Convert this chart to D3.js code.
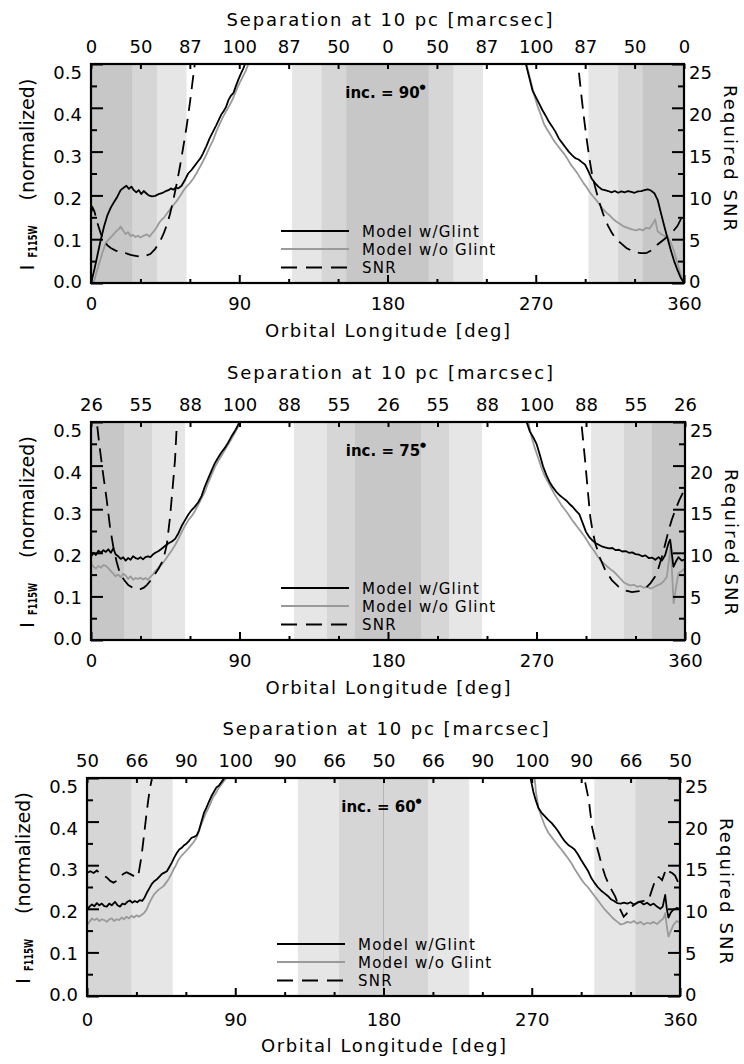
<!DOCTYPE html>
<html>
<head>
<meta charset="utf-8">
<script src="https://cdn.jsdelivr.net/npm/d3@7"></script>
<style>
  body { margin: 0; background: #fff; }
  svg text { font-family: "DejaVu Sans", sans-serif; fill: #000; }
</style>
</head>
<body>
<svg id="fig" width="744" height="1064"></svg>
<script>
// ---------------- data ----------------
const lonMajor = [0, 90, 180, 270, 360];
const lonMinor = [30, 60, 120, 150, 210, 240, 300, 330];
const sepTickLon = [0, 30, 60, 90, 120, 150, 180, 210, 240, 270, 300, 330, 360];
const fluxMajor = [0, 0.1, 0.2, 0.3, 0.4, 0.5];
const fluxMinor = [0.05, 0.15, 0.25, 0.35, 0.45];
const snrMajor = [0, 5, 10, 15, 20, 25];
const snrMinor = [2.5, 7.5, 12.5, 17.5, 22.5];

const sepLabels90 = ["0","50","87","100","87","50","0","50","87","100","87","50","0"];
const sepLabels75 = ["26","55","88","100","88","55","26","55","88","100","88","55","26"];
const sepLabels60 = ["50","66","90","100","90","66","50","66","90","100","90","66","50"];
const inclinations = ["90", "75", "60"];

// half-widths (deg) of the shaded zones around 0/180/360: light, mid, dark
const zoneHalf90 = [58, 40, 25];
const zoneHalf75 = [57, 37, 20];
const zoneHalf60 = [52, 27, null];

const legendLabels = ["Model w/Glint", "Model w/o Glint", "SNR"];

// [orbital longitude (deg), normalized flux]; null splits the off-scale gap
const glint90 = [[0,0],[2,0.03],[4,0.065],[6,0.10],[8,0.13],[10,0.155],[12,0.172],[14,0.185],[16,0.197],[18,0.212],[20,0.218],[21.5,0.222],[23,0.215],[24.5,0.220],[26,0.212],[27.5,0.207],[29,0.212],[30.5,0.203],[32,0.210],[33.5,0.205],[35,0.200],[37,0.198],[39,0.199],[41,0.203],[43,0.205],[45,0.209],[47,0.212],[48.5,0.216],[50,0.213],[51.5,0.218],[53,0.216],[55,0.222],[57,0.235],[59,0.250],[61,0.258],[63,0.268],[65,0.278],[66.5,0.285],[68,0.296],[70,0.312],[72,0.330],[74,0.345],[76,0.360],[77.5,0.372],[79,0.384],[80.5,0.392],[82,0.402],[83.5,0.418],[85,0.428],[86.5,0.434],[88,0.450],[89.5,0.465],[91,0.478],[92.5,0.490],[94,0.505],[96,0.53],
  null,
  [262,0.53],[264,0.50],[266,0.47],[268,0.44],[270,0.425],[272,0.410],[274,0.395],[276,0.382],[278,0.368],[280,0.357],[282,0.345],[284,0.330],[286,0.320],[288,0.310],[290,0.300],[292,0.292],[294,0.285],[296,0.282],[298,0.276],[300,0.270],[302,0.255],[304,0.238],[306,0.228],[308,0.220],[310,0.214],[312,0.212],[314,0.210],[316,0.207],[318,0.210],[320,0.206],[322,0.209],[324,0.207],[326,0.210],[328,0.208],[330,0.206],[332,0.209],[334,0.210],[336,0.212],[338,0.214],[340,0.211],[342,0.205],[344,0.190],[346,0.160],[348,0.130],[350,0.102],[352,0.075],[354,0.050],[356,0.030],[358,0.012],[360,0]];

const noGlint90 = [[0,0],[1.5,0],[3,0.02],[5,0.045],[7,0.07],[9,0.092],[11,0.100],[13,0.108],[15,0.117],[16.5,0.122],[18,0.129],[19.5,0.120],[21,0.112],[22.5,0.116],[24,0.107],[25.5,0.110],[27,0.105],[28.5,0.108],[30,0.104],[32,0.108],[34,0.111],[35.5,0.106],[37,0.113],[38.5,0.120],[40,0.128],[41.5,0.138],[43,0.145],[44.5,0.150],[46,0.158],[48,0.168],[50,0.178],[52,0.187],[54,0.198],[56,0.210],[58,0.220],[60,0.228],[62,0.238],[64,0.250],[66,0.264],[68,0.278],[70,0.293],[72,0.310],[74,0.325],[76,0.345],[78,0.362],[80,0.378],[82,0.392],[84,0.405],[86,0.420],[88,0.438],[90,0.455],[92,0.470],[94,0.485],[96,0.505],[98,0.53],
  null,
  [263,0.53],[265,0.49],[267,0.46],[269,0.43],[271,0.405],[273,0.385],[275,0.363],[277,0.350],[279,0.338],[281,0.325],[283,0.315],[285,0.305],[287,0.296],[289,0.285],[291,0.272],[293,0.262],[295,0.252],[297,0.240],[299,0.228],[301,0.218],[303,0.206],[305,0.197],[307,0.188],[309,0.178],[311,0.168],[313,0.160],[315,0.154],[317,0.146],[319,0.140],[321,0.135],[323,0.130],[325,0.127],[327,0.124],[329,0.122],[331,0.120],[333,0.123],[335,0.120],[337,0.126],[339,0.124],[341,0.135],[342.5,0.145],[344,0.118],[346,0.112],[348,0.108],[350,0.105],[352,0.092],[354,0.072],[356,0.045],[358,0.020],[360,0]];

// [orbital longitude (deg), required SNR]
const snr90 = [[0,8.0],[1,8.6],[2,8.2],[4,6.8],[6,5.6],[8,4.8],[10,4.3],[12,4.0],[15,3.7],[18,3.5],[21,3.4],[24,3.2],[27,3.1],[30,3.0],[33,3.1],[36,3.3],[39,3.9],[42,4.8],[44,5.6],[46,6.6],[48,7.9],[50,9.5],[52,11.3],[54,13.3],[56,15.5],[58,17.8],[60,20.5],[62,23.5],[64,26.5],
  null,
  [295,26.5],[296.5,23.5],[298,20.9],[299.5,18.5],[301,16.3],[302.5,14.3],[304,12.6],[306,11.0],[308,9.6],[310,8.4],[312,7.3],[314,6.5],[316,5.8],[318,5.2],[320,4.8],[322,4.5],[325,4.0],[328,3.7],[331,3.5],[334,3.4],[337,3.4],[340,3.7],[344,4.4],[348,5.0],[352,5.6],[356,6.5],[360,8.0]];

const glint75 = [[0,0.191],[1.5,0.200],[3,0.195],[4.5,0.205],[6,0.200],[7.5,0.206],[9,0.202],[10.5,0.208],[12,0.200],[13.5,0.210],[15,0.196],[16.5,0.192],[18,0.186],[19.5,0.190],[21,0.182],[22.5,0.188],[24,0.184],[25.5,0.192],[27,0.188],[28.5,0.186],[30,0.190],[31.5,0.185],[33,0.190],[34.5,0.192],[36,0.190],[37.5,0.196],[39,0.200],[41,0.204],[43,0.210],[45,0.216],[47,0.222],[49,0.226],[51,0.232],[53,0.245],[55,0.262],[57,0.275],[59,0.288],[61,0.298],[63,0.306],[65,0.316],[67,0.330],[69,0.352],[71,0.370],[73,0.388],[75,0.405],[77,0.418],[79,0.430],[81,0.440],[83,0.452],[85,0.466],[87,0.478],[89,0.492],[91,0.508],[93,0.53],
  null,
  [262,0.53],[264,0.50],[266,0.478],[268,0.465],[270,0.450],[272,0.425],[274,0.398],[276,0.378],[278,0.362],[280,0.350],[282,0.340],[284,0.332],[286,0.326],[288,0.320],[290,0.312],[292,0.305],[294,0.296],[296,0.288],[298,0.268],[300,0.248],[302,0.236],[304,0.228],[306,0.222],[308,0.218],[310,0.214],[312,0.212],[314,0.210],[316,0.211],[318,0.206],[320,0.207],[322,0.203],[324,0.204],[326,0.200],[328,0.201],[330,0.197],[332,0.196],[334,0.192],[336,0.194],[338,0.188],[340,0.189],[342,0.184],[344,0.190],[346,0.182],[348,0.195],[350,0.222],[351,0.230],[352,0.200],[353,0.168],[354.5,0.180],[356,0.190],[358,0.182],[360,0.185]];

const noGlint75 = [[0,0.176],[1.5,0.168],[3,0.164],[4.5,0.170],[6,0.166],[7.5,0.172],[9,0.170],[10.5,0.165],[12,0.158],[13.5,0.152],[15,0.146],[16.5,0.150],[18,0.144],[19.5,0.152],[21,0.148],[22.5,0.140],[24,0.146],[25.5,0.138],[27,0.142],[28.5,0.140],[30,0.143],[31.5,0.139],[33,0.142],[34.5,0.138],[36,0.145],[37.5,0.150],[39,0.158],[41,0.166],[43,0.174],[45,0.184],[47,0.195],[49,0.206],[51,0.218],[53,0.232],[55,0.248],[57,0.262],[59,0.275],[61,0.284],[63,0.296],[65,0.310],[67,0.325],[69,0.340],[71,0.360],[73,0.378],[75,0.396],[77,0.410],[79,0.422],[81,0.435],[83,0.448],[85,0.460],[87,0.474],[89,0.488],[91,0.502],[93,0.525],
  null,
  [263,0.53],[265,0.50],[267,0.466],[269,0.440],[271,0.418],[273,0.395],[275,0.376],[277,0.362],[279,0.348],[281,0.334],[283,0.322],[285,0.310],[287,0.300],[289,0.290],[291,0.278],[293,0.268],[295,0.258],[297,0.248],[299,0.238],[301,0.226],[303,0.214],[305,0.204],[307,0.192],[309,0.182],[311,0.175],[313,0.168],[315,0.162],[317,0.156],[319,0.148],[321,0.140],[323,0.132],[325,0.128],[327,0.125],[329,0.127],[331,0.122],[333,0.124],[335,0.120],[337,0.122],[339,0.118],[341,0.121],[343,0.125],[345,0.128],[347,0.134],[349,0.145],[350.5,0.190],[351.3,0.222],[352.2,0.150],[353.1,0.084],[354.5,0.120],[356,0.153],[358,0.158],[360,0.165]];

const snr75 = [[2.5,27],[3.5,25],[5,22.5],[7,19.5],[9.5,16.1],[11.5,13.0],[13.5,10.7],[15.5,9.0],[17.6,7.6],[20,6.9],[22.6,6.3],[26,5.9],[29.7,5.8],[32,6.0],[33.8,6.3],[36,6.8],[37.8,7.3],[41,8.2],[43.8,9.2],[46,11.0],[47.9,14.1],[49.5,17.5],[50.9,20.6],[51.9,24.3],[52.5,27],
  null,
  [296.5,27],[297.2,24.9],[299.6,20.3],[301,17.3],[302.6,14.1],[304,12.5],[305.6,11.1],[308.5,9.4],[311.7,8.0],[315.5,6.9],[319.8,6.1],[323.5,5.7],[327.9,5.5],[332,5.6],[335.9,5.9],[339,6.5],[342,7.3],[344,8.3],[346.1,9.6],[348,11.0],[350.1,12.6],[352,13.8],[354.1,14.9],[356.5,16.0],[359,17.0],[360,17.4]];

const glint60 = [[0,0.197],[1.5,0.205],[3,0.210],[4.5,0.206],[6,0.213],[7.5,0.208],[9,0.212],[10.5,0.206],[12,0.205],[13.5,0.212],[15,0.208],[17,0.216],[18.5,0.208],[20,0.205],[21.5,0.212],[23,0.210],[24.5,0.216],[26,0.219],[27.5,0.214],[29,0.218],[30.5,0.215],[32,0.220],[33.5,0.218],[35,0.226],[36.5,0.238],[38,0.248],[39.5,0.258],[41,0.264],[42.5,0.268],[44,0.274],[45.5,0.280],[47,0.283],[48.5,0.286],[50,0.296],[51.5,0.306],[53,0.318],[54.5,0.328],[56,0.336],[57.5,0.340],[59,0.346],[60.5,0.350],[62,0.356],[63.5,0.363],[65,0.365],[66.5,0.368],[68,0.380],[69.5,0.400],[71,0.420],[72.5,0.432],[74,0.445],[75.5,0.458],[77,0.468],[78.5,0.478],[80,0.482],[81.5,0.490],[83,0.498],[84.5,0.505],[86,0.52],
  null,
  [268,0.53],[269.5,0.495],[271,0.468],[272.5,0.448],[274,0.432],[276,0.420],[278,0.412],[280,0.404],[282,0.397],[284,0.388],[286,0.378],[288,0.366],[290,0.355],[292,0.347],[294,0.342],[296,0.336],[298,0.325],[300,0.312],[302,0.300],[304,0.288],[306,0.272],[308,0.260],[310,0.250],[312,0.242],[314,0.236],[316,0.230],[318,0.222],[320,0.218],[322,0.213],[324,0.212],[326,0.214],[328,0.212],[330,0.215],[332,0.210],[334,0.214],[336,0.216],[338,0.210],[340,0.214],[342,0.208],[344,0.212],[346,0.205],[348,0.200],[349.5,0.205],[351,0.232],[352,0.200],[353,0.180],[354.5,0.192],[356,0.198],[358,0.202],[360,0.199]];

const noGlint60 = [[0,0.163],[1.5,0.170],[3,0.178],[4.5,0.174],[6,0.178],[7.5,0.172],[9,0.176],[10.5,0.174],[12,0.170],[13.5,0.176],[15,0.178],[16.5,0.172],[18,0.176],[19.5,0.174],[21,0.180],[22.5,0.176],[24,0.182],[25.5,0.178],[27,0.184],[28.5,0.180],[30,0.185],[31.5,0.182],[33,0.186],[34.5,0.190],[36,0.197],[37.5,0.210],[39,0.222],[40.5,0.232],[42,0.238],[43.5,0.244],[45,0.248],[46.5,0.252],[48,0.260],[49.5,0.268],[51,0.278],[52.5,0.290],[54,0.300],[55.5,0.312],[57,0.320],[58.5,0.326],[60,0.332],[61.5,0.338],[63,0.345],[64.5,0.352],[66,0.360],[67.5,0.372],[69,0.390],[70.5,0.404],[72,0.418],[73.5,0.430],[75,0.442],[76.5,0.456],[78,0.464],[79.5,0.474],[81,0.482],[82.5,0.490],[84,0.498],[85.5,0.51],[87,0.525],
  null,
  [271,0.53],[272.5,0.47],[274,0.432],[276,0.41],[278,0.39],[280,0.375],[282,0.365],[284,0.355],[286,0.345],[288,0.336],[290,0.326],[292,0.316],[294,0.305],[296,0.292],[298,0.280],[300,0.268],[302,0.258],[304,0.250],[306,0.240],[308,0.230],[310,0.220],[312,0.210],[314,0.200],[316,0.192],[318,0.184],[320,0.176],[322,0.170],[324,0.164],[326,0.166],[328,0.170],[330,0.168],[332,0.172],[334,0.166],[336,0.170],[338,0.164],[340,0.168],[342,0.166],[344,0.170],[346,0.165],[348,0.172],[350,0.178],[351,0.190],[352,0.160],[353,0.136],[354.5,0.150],[356,0.163],[358,0.172],[360,0.168]];

const snr60 = [[0,14.1],[2,14.3],[4,14.1],[6,14.4],[8,14.0],[10,13.8],[12,13.6],[14,13.2],[16,13.0],[18,13.2],[20,13.6],[22,14.0],[24,14.2],[26,14.0],[28,13.8],[30,13.6],[31,13.7],[32.2,15.0],[33.2,16.2],[34.2,17.8],[35.2,19.4],[36.2,21.0],[37.2,22.5],[38.2,23.8],[39.3,24.8],[40.5,26.5],
  null,
  [301,27],[302.1,24.8],[304.6,22.5],[306.6,19.4],[308.5,17.8],[310.6,16.4],[312.5,15.0],[314.7,13.7],[317.5,12.5],[320.7,11.4],[323,10.2],[325.8,9.1],[327.5,9.4],[328.9,9.9],[331,10.3],[334.9,10.8],[338,10.9],[341,11.0],[343,12.2],[345,13.3],[346,13.7],[347.5,13.6],[349.1,13.3],[350.5,14.0],[351.5,14.6],[353,14.3],[355.2,14.1],[357,13.8],[359.2,12.9],[360,12.7]];

// ---------------- layout & style ----------------
const panels = [
  { box: {left: 91, right: 684, top: 64,  bottom: 283}, titleGap: 38, botPad: 14, snrTitleY: 158, inc: inclinations[0], sep: sepLabels90, zones: zoneHalf90, glint: glint90, noGlint: noGlint90, snr: snr90, midLine: false },
  { box: {left: 91, right: 685, top: 422, bottom: 640}, titleGap: 43, botPad: 14, snrTitleY: 542, inc: inclinations[1], sep: sepLabels75, zones: zoneHalf75, glint: glint75, noGlint: noGlint75, snr: snr75, midLine: false },
  { box: {left: 87, right: 680, top: 778, bottom: 996}, titleGap: 43, botPad: 17, snrTitleY: 891, inc: inclinations[2], sep: sepLabels60, zones: zoneHalf60, glint: glint60, noGlint: noGlint60, snr: snr60, midLine: true }
];
const zoneFill = ["#e6e6e6", "#d6d6d6", "#c7c7c7"];
const greyLine = "#9a9a9a";
const dash = "14,8";
const FONT = "DejaVu Sans, sans-serif";

const svg = d3.select("#fig");

function styleAxis(g, size) {
  g.select(".domain").remove();
  g.attr("font-family", FONT).attr("font-size", size);
  g.selectAll(".tick line").attr("stroke", "#000").attr("stroke-width", 2);
  g.selectAll(".tick text").attr("fill", "#000");
}
// vertical tick labels sit a little lower toward the top of the axis
const labelShift = frac => -1.5 + 9.5 * frac;

panels.forEach((p, i) => {
  const b = p.box;
  const x = d3.scaleLinear().domain([0, 360]).range([b.left, b.right]);
  const y = d3.scaleLinear().domain([0, 0.5]).range([b.bottom, b.top]);
  const ys = d3.scaleLinear().domain([0, 25]).range([b.bottom, b.top]);
  const cx = (b.left + b.right) / 2;

  const clipId = "clip" + i;
  svg.append("clipPath").attr("id", clipId)
    .append("rect").attr("x", b.left).attr("y", b.top)
    .attr("width", b.right - b.left).attr("height", b.bottom - b.top);

  const plot = svg.append("g").attr("clip-path", `url(#${clipId})`);

  // shaded separation zones around conjunctions
  p.zones.forEach((half, k) => {
    if (half == null) return;
    [0, 180, 360].forEach(c => {
      plot.append("rect")
        .attr("x", x(c - half)).attr("y", b.top)
        .attr("width", x(c + half) - x(c - half)).attr("height", b.bottom - b.top)
        .attr("fill", zoneFill[k]);
    });
  });
  if (p.midLine) {
    plot.append("line").attr("x1", x(180)).attr("x2", x(180))
      .attr("y1", b.top).attr("y2", b.bottom)
      .attr("stroke", "#b4b4b4").attr("stroke-width", 1);
  }

  const fluxLine = d3.line().defined(d => d != null).x(d => x(d[0])).y(d => y(d[1]));
  const snrLine = d3.line().defined(d => d != null).x(d => x(d[0])).y(d => ys(d[1]));

  plot.append("path").datum(p.noGlint).attr("d", fluxLine)
    .attr("fill", "none").attr("stroke", greyLine).attr("stroke-width", 1.8).attr("stroke-linejoin", "round");
  plot.append("path").datum(p.glint).attr("d", fluxLine)
    .attr("fill", "none").attr("stroke", "#000").attr("stroke-width", 1.8).attr("stroke-linejoin", "round");
  plot.append("path").datum(p.snr).attr("d", snrLine)
    .attr("fill", "none").attr("stroke", "#000").attr("stroke-width", 1.8).attr("stroke-dasharray", dash);

  // legend
  const legY = [b.bottom - 52, b.bottom - 34, b.bottom - 15.5];
  const legX0 = b.left + 190, legX1 = b.left + 258, legTx = b.left + 271;
  const legStyles = [
    {stroke: "#000", dash: null},
    {stroke: greyLine, dash: null},
    {stroke: "#000", dash: "16,9"}
  ];
  legendLabels.forEach((lab, k) => {
    svg.append("line").attr("x1", legX0).attr("x2", legX1).attr("y1", legY[k]).attr("y2", legY[k])
      .attr("stroke", legStyles[k].stroke).attr("stroke-width", 1.8)
      .attr("stroke-dasharray", legStyles[k].dash);
    svg.append("text").attr("x", legTx).attr("y", legY[k] + 5.5)
      .attr("font-size", 15).attr("letter-spacing", 1.2).attr("fill", "#222")
      .text(lab);
  });

  // inclination label
  const inc = svg.append("text").attr("x", x(180) - 2).attr("y", b.top + 34)
    .attr("text-anchor", "middle").attr("font-size", 15).attr("font-weight", "bold");
  inc.append("tspan").text(`inc. = ${p.inc}`);
  inc.append("tspan").attr("font-size", 7).attr("dy", -9).text("\u25CF");

  // frame
  svg.append("rect").attr("x", b.left).attr("y", b.top)
    .attr("width", b.right - b.left).attr("height", b.bottom - b.top)
    .attr("fill", "none").attr("stroke", "#000").attr("stroke-width", 2.2);

  // bottom axis: orbital longitude
  svg.append("g").attr("transform", `translate(0,${b.bottom})`)
    .call(d3.axisBottom(x).tickValues(lonMajor).tickSize(-8).tickPadding(p.botPad).tickFormat(d3.format("d")))
    .call(g => styleAxis(g, 18));
  svg.append("g").attr("transform", `translate(0,${b.bottom})`)
    .call(d3.axisBottom(x).tickValues(lonMinor).tickSize(-4).tickFormat(""))
    .call(g => styleAxis(g, 18));

  // top axis: projected separation
  svg.append("g").attr("transform", `translate(0,${b.top})`)
    .call(d3.axisTop(x).tickValues(sepTickLon).tickSize(-5).tickPadding(11)
      .tickFormat((d, k) => p.sep[k]))
    .call(g => styleAxis(g, 18));

  // left axis: flux
  svg.append("g").attr("transform", `translate(${b.left},0)`)
    .call(d3.axisLeft(y).tickValues(fluxMajor).tickSize(-12).tickPadding(9).tickFormat(d3.format(".1f")))
    .call(g => {
      styleAxis(g, 18);
      g.selectAll(".tick text").attr("dy", "0.36em").attr("y", d => labelShift(d / 0.5));
    });
  svg.append("g").attr("transform", `translate(${b.left},0)`)
    .call(d3.axisLeft(y).tickValues(fluxMinor).tickSize(-6).tickFormat(""))
    .call(g => styleAxis(g, 18));

  // right axis: required SNR
  svg.append("g").attr("transform", `translate(${b.right},0)`)
    .call(d3.axisRight(ys).tickValues(snrMajor).tickSize(-12).tickPadding(5).tickFormat(d3.format("d")))
    .call(g => {
      styleAxis(g, 18);
      g.selectAll(".tick text").attr("dy", "0.36em").attr("y", d => labelShift(d / 25));
    });
  svg.append("g").attr("transform", `translate(${b.right},0)`)
    .call(d3.axisRight(ys).tickValues(snrMinor).tickSize(-6).tickFormat(""))
    .call(g => styleAxis(g, 18));

  // axis titles
  svg.append("text").attr("x", cx + 2).attr("y", b.top - p.titleGap)
    .attr("text-anchor", "middle").attr("font-size", 18)
    .attr("textLength", 326).attr("lengthAdjust", "spacing")
    .text("Separation at 10 pc [marcsec]");
  svg.append("text").attr("x", cx).attr("y", b.bottom + (i === 2 ? 56 : 54))
    .attr("text-anchor", "middle").attr("font-size", 18)
    .attr("textLength", 245).attr("lengthAdjust", "spacing")
    .text("Orbital Longitude [deg]");

  // left title, rotated: I with bold F115W subscript, then (normalized)
  const midY = (b.top + b.bottom) / 2;
  const lt = svg.append("g").attr("transform", `translate(${b.left - 57},${midY + 97}) rotate(-90)`);
  lt.append("text").attr("x", 0).attr("y", 0).attr("font-size", 20).text("I");
  lt.append("text").attr("x", 13).attr("y", 3).attr("font-size", 12).attr("font-weight", "bold")
    .attr("textLength", 32).attr("lengthAdjust", "spacingAndGlyphs").text("F115W");
  lt.append("text").attr("x", 70).attr("y", 0).attr("font-size", 19)
    .attr("textLength", 122).attr("lengthAdjust", "spacing").text("(normalized)");

  // right title
  svg.append("text")
    .attr("transform", `translate(${b.right + 40},${p.snrTitleY}) rotate(90)`)
    .attr("text-anchor", "middle").attr("font-size", 18)
    .attr("textLength", 146).attr("lengthAdjust", "spacing")
    .text("Required SNR");
});
</script>
</body>
</html>
